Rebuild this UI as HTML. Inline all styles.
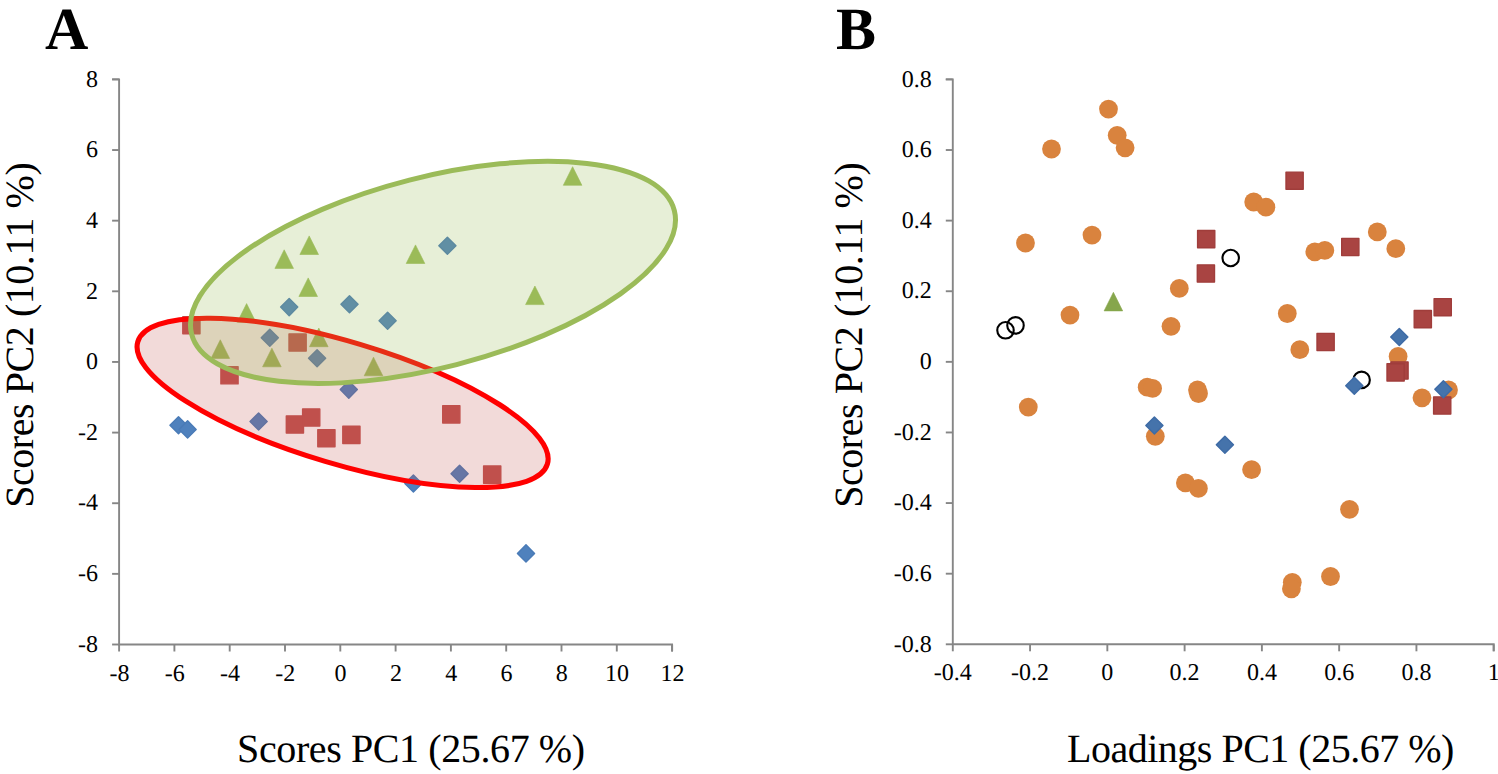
<!DOCTYPE html>
<html><head><meta charset="utf-8"><title>PCA scores and loadings</title>
<style>
html,body{margin:0;padding:0;background:#fff;}
body{width:1498px;height:774px;overflow:hidden;}
svg{display:block;font-family:"Liberation Serif",serif;text-rendering:geometricPrecision;}
text{fill:#000;}
</style></head><body>
<svg width="1498" height="774" viewBox="0 0 1498 774">
<rect width="1498" height="774" fill="#fff"/>
<path d="M112.1,79.40 H119.1 V644.5 H672.1 V651.5" fill="none" stroke="#868686" stroke-width="1.9" stroke-linejoin="miter"/>
<line x1="112.10" y1="79.40" x2="119.10" y2="79.40" stroke="#868686" stroke-width="1.9" stroke-linecap="butt"/>
<line x1="112.10" y1="150.04" x2="119.10" y2="150.04" stroke="#868686" stroke-width="1.9" stroke-linecap="butt"/>
<line x1="112.10" y1="220.67" x2="119.10" y2="220.67" stroke="#868686" stroke-width="1.9" stroke-linecap="butt"/>
<line x1="112.10" y1="291.31" x2="119.10" y2="291.31" stroke="#868686" stroke-width="1.9" stroke-linecap="butt"/>
<line x1="112.10" y1="361.95" x2="119.10" y2="361.95" stroke="#868686" stroke-width="1.9" stroke-linecap="butt"/>
<line x1="112.10" y1="432.59" x2="119.10" y2="432.59" stroke="#868686" stroke-width="1.9" stroke-linecap="butt"/>
<line x1="112.10" y1="503.23" x2="119.10" y2="503.23" stroke="#868686" stroke-width="1.9" stroke-linecap="butt"/>
<line x1="112.10" y1="573.86" x2="119.10" y2="573.86" stroke="#868686" stroke-width="1.9" stroke-linecap="butt"/>
<line x1="112.10" y1="644.50" x2="119.10" y2="644.50" stroke="#868686" stroke-width="1.9" stroke-linecap="butt"/>
<line x1="119.10" y1="644.50" x2="119.10" y2="651.50" stroke="#868686" stroke-width="1.9" stroke-linecap="butt"/>
<line x1="174.40" y1="644.50" x2="174.40" y2="651.50" stroke="#868686" stroke-width="1.9" stroke-linecap="butt"/>
<line x1="229.70" y1="644.50" x2="229.70" y2="651.50" stroke="#868686" stroke-width="1.9" stroke-linecap="butt"/>
<line x1="285.00" y1="644.50" x2="285.00" y2="651.50" stroke="#868686" stroke-width="1.9" stroke-linecap="butt"/>
<line x1="340.30" y1="644.50" x2="340.30" y2="651.50" stroke="#868686" stroke-width="1.9" stroke-linecap="butt"/>
<line x1="395.60" y1="644.50" x2="395.60" y2="651.50" stroke="#868686" stroke-width="1.9" stroke-linecap="butt"/>
<line x1="450.90" y1="644.50" x2="450.90" y2="651.50" stroke="#868686" stroke-width="1.9" stroke-linecap="butt"/>
<line x1="506.20" y1="644.50" x2="506.20" y2="651.50" stroke="#868686" stroke-width="1.9" stroke-linecap="butt"/>
<line x1="561.50" y1="644.50" x2="561.50" y2="651.50" stroke="#868686" stroke-width="1.9" stroke-linecap="butt"/>
<line x1="616.80" y1="644.50" x2="616.80" y2="651.50" stroke="#868686" stroke-width="1.9" stroke-linecap="butt"/>
<line x1="672.10" y1="644.50" x2="672.10" y2="651.50" stroke="#868686" stroke-width="1.9" stroke-linecap="butt"/>
<text x="98.00" y="86.60" text-anchor="end" font-size="24" >8</text>
<text x="98.00" y="157.24" text-anchor="end" font-size="24" >6</text>
<text x="98.00" y="227.87" text-anchor="end" font-size="24" >4</text>
<text x="98.00" y="298.51" text-anchor="end" font-size="24" >2</text>
<text x="98.00" y="369.15" text-anchor="end" font-size="24" >0</text>
<text x="98.00" y="439.79" text-anchor="end" font-size="24" >-2</text>
<text x="98.00" y="510.43" text-anchor="end" font-size="24" >-4</text>
<text x="98.00" y="581.06" text-anchor="end" font-size="24" >-6</text>
<text x="98.00" y="651.70" text-anchor="end" font-size="24" >-8</text>
<text x="119.40" y="681.00" text-anchor="middle" font-size="24" >-8</text>
<text x="174.70" y="681.00" text-anchor="middle" font-size="24" >-6</text>
<text x="230.00" y="681.00" text-anchor="middle" font-size="24" >-4</text>
<text x="285.30" y="681.00" text-anchor="middle" font-size="24" >-2</text>
<text x="340.60" y="681.00" text-anchor="middle" font-size="24" >0</text>
<text x="395.90" y="681.00" text-anchor="middle" font-size="24" >2</text>
<text x="451.20" y="681.00" text-anchor="middle" font-size="24" >4</text>
<text x="506.50" y="681.00" text-anchor="middle" font-size="24" >6</text>
<text x="561.80" y="681.00" text-anchor="middle" font-size="24" >8</text>
<text x="617.10" y="681.00" text-anchor="middle" font-size="24" >10</text>
<text x="672.40" y="681.00" text-anchor="middle" font-size="24" >12</text>
<path d="M945.8,79.40 H952.8 V644.3 H1493.7 V651.3" fill="none" stroke="#868686" stroke-width="1.9" stroke-linejoin="miter"/>
<line x1="945.80" y1="79.40" x2="952.80" y2="79.40" stroke="#868686" stroke-width="1.9" stroke-linecap="butt"/>
<text x="931.80" y="86.60" text-anchor="end" font-size="24" >0.8</text>
<line x1="945.80" y1="150.01" x2="952.80" y2="150.01" stroke="#868686" stroke-width="1.9" stroke-linecap="butt"/>
<text x="931.80" y="157.21" text-anchor="end" font-size="24" >0.6</text>
<line x1="945.80" y1="220.62" x2="952.80" y2="220.62" stroke="#868686" stroke-width="1.9" stroke-linecap="butt"/>
<text x="931.80" y="227.82" text-anchor="end" font-size="24" >0.4</text>
<line x1="945.80" y1="291.24" x2="952.80" y2="291.24" stroke="#868686" stroke-width="1.9" stroke-linecap="butt"/>
<text x="931.80" y="298.44" text-anchor="end" font-size="24" >0.2</text>
<line x1="945.80" y1="361.85" x2="952.80" y2="361.85" stroke="#868686" stroke-width="1.9" stroke-linecap="butt"/>
<text x="931.80" y="369.05" text-anchor="end" font-size="24" >0</text>
<line x1="945.80" y1="432.46" x2="952.80" y2="432.46" stroke="#868686" stroke-width="1.9" stroke-linecap="butt"/>
<text x="931.80" y="439.66" text-anchor="end" font-size="24" >-0.2</text>
<line x1="945.80" y1="503.07" x2="952.80" y2="503.07" stroke="#868686" stroke-width="1.9" stroke-linecap="butt"/>
<text x="931.80" y="510.27" text-anchor="end" font-size="24" >-0.4</text>
<line x1="945.80" y1="573.69" x2="952.80" y2="573.69" stroke="#868686" stroke-width="1.9" stroke-linecap="butt"/>
<text x="931.80" y="580.89" text-anchor="end" font-size="24" >-0.6</text>
<line x1="945.80" y1="644.30" x2="952.80" y2="644.30" stroke="#868686" stroke-width="1.9" stroke-linecap="butt"/>
<text x="931.80" y="651.50" text-anchor="end" font-size="24" >-0.8</text>
<line x1="952.80" y1="644.30" x2="952.80" y2="651.30" stroke="#868686" stroke-width="1.9" stroke-linecap="butt"/>
<text x="952.80" y="679.80" text-anchor="middle" font-size="24" >-0.4</text>
<line x1="1030.07" y1="644.30" x2="1030.07" y2="651.30" stroke="#868686" stroke-width="1.9" stroke-linecap="butt"/>
<text x="1030.07" y="679.80" text-anchor="middle" font-size="24" >-0.2</text>
<line x1="1107.34" y1="644.30" x2="1107.34" y2="651.30" stroke="#868686" stroke-width="1.9" stroke-linecap="butt"/>
<text x="1107.34" y="679.80" text-anchor="middle" font-size="24" >0</text>
<line x1="1184.61" y1="644.30" x2="1184.61" y2="651.30" stroke="#868686" stroke-width="1.9" stroke-linecap="butt"/>
<text x="1184.61" y="679.80" text-anchor="middle" font-size="24" >0.2</text>
<line x1="1261.89" y1="644.30" x2="1261.89" y2="651.30" stroke="#868686" stroke-width="1.9" stroke-linecap="butt"/>
<text x="1261.89" y="679.80" text-anchor="middle" font-size="24" >0.4</text>
<line x1="1339.16" y1="644.30" x2="1339.16" y2="651.30" stroke="#868686" stroke-width="1.9" stroke-linecap="butt"/>
<text x="1339.16" y="679.80" text-anchor="middle" font-size="24" >0.6</text>
<line x1="1416.43" y1="644.30" x2="1416.43" y2="651.30" stroke="#868686" stroke-width="1.9" stroke-linecap="butt"/>
<text x="1416.43" y="679.80" text-anchor="middle" font-size="24" >0.8</text>
<line x1="1493.70" y1="644.30" x2="1493.70" y2="651.30" stroke="#868686" stroke-width="1.9" stroke-linecap="butt"/>
<text x="1493.70" y="679.80" text-anchor="middle" font-size="24" >1</text>
<path d="M178.50,416.65 L187.05,425.20 L178.50,433.75 L169.95,425.20Z" fill="#4f81bd" stroke="#4a7bb7" stroke-width="1.45" stroke-linejoin="round"/>
<path d="M187.60,420.85 L196.15,429.40 L187.60,437.95 L179.05,429.40Z" fill="#4f81bd" stroke="#4a7bb7" stroke-width="1.45" stroke-linejoin="round"/>
<path d="M258.60,412.95 L267.15,421.50 L258.60,430.05 L250.05,421.50Z" fill="#4f81bd" stroke="#4a7bb7" stroke-width="1.45" stroke-linejoin="round"/>
<path d="M269.80,329.15 L278.35,337.70 L269.80,346.25 L261.25,337.70Z" fill="#4f81bd" stroke="#4a7bb7" stroke-width="1.45" stroke-linejoin="round"/>
<path d="M289.20,298.55 L297.75,307.10 L289.20,315.65 L280.65,307.10Z" fill="#4f81bd" stroke="#4a7bb7" stroke-width="1.45" stroke-linejoin="round"/>
<path d="M317.10,349.75 L325.65,358.30 L317.10,366.85 L308.55,358.30Z" fill="#4f81bd" stroke="#4a7bb7" stroke-width="1.45" stroke-linejoin="round"/>
<path d="M348.80,381.05 L357.35,389.60 L348.80,398.15 L340.25,389.60Z" fill="#4f81bd" stroke="#4a7bb7" stroke-width="1.45" stroke-linejoin="round"/>
<path d="M349.50,295.65 L358.05,304.20 L349.50,312.75 L340.95,304.20Z" fill="#4f81bd" stroke="#4a7bb7" stroke-width="1.45" stroke-linejoin="round"/>
<path d="M387.60,312.25 L396.15,320.80 L387.60,329.35 L379.05,320.80Z" fill="#4f81bd" stroke="#4a7bb7" stroke-width="1.45" stroke-linejoin="round"/>
<path d="M447.40,237.15 L455.95,245.70 L447.40,254.25 L438.85,245.70Z" fill="#4f81bd" stroke="#4a7bb7" stroke-width="1.45" stroke-linejoin="round"/>
<path d="M413.40,474.95 L421.95,483.50 L413.40,492.05 L404.85,483.50Z" fill="#4f81bd" stroke="#4a7bb7" stroke-width="1.45" stroke-linejoin="round"/>
<path d="M459.60,465.15 L468.15,473.70 L459.60,482.25 L451.05,473.70Z" fill="#4f81bd" stroke="#4a7bb7" stroke-width="1.45" stroke-linejoin="round"/>
<path d="M526.00,544.85 L534.55,553.40 L526.00,561.95 L517.45,553.40Z" fill="#4f81bd" stroke="#4a7bb7" stroke-width="1.45" stroke-linejoin="round"/>
<rect x="182.80" y="316.60" width="17.20" height="17.20" fill="#c0504d" stroke="#c0504d" stroke-width="1.4" stroke-linejoin="round"/>
<rect x="220.90" y="366.70" width="17.20" height="17.20" fill="#c0504d" stroke="#c0504d" stroke-width="1.4" stroke-linejoin="round"/>
<rect x="289.00" y="333.90" width="17.20" height="17.20" fill="#c0504d" stroke="#c0504d" stroke-width="1.4" stroke-linejoin="round"/>
<rect x="302.60" y="408.90" width="17.20" height="17.20" fill="#c0504d" stroke="#c0504d" stroke-width="1.4" stroke-linejoin="round"/>
<rect x="286.30" y="415.90" width="17.20" height="17.20" fill="#c0504d" stroke="#c0504d" stroke-width="1.4" stroke-linejoin="round"/>
<rect x="317.80" y="429.60" width="17.20" height="17.20" fill="#c0504d" stroke="#c0504d" stroke-width="1.4" stroke-linejoin="round"/>
<rect x="342.80" y="426.30" width="17.20" height="17.20" fill="#c0504d" stroke="#c0504d" stroke-width="1.4" stroke-linejoin="round"/>
<rect x="442.70" y="405.80" width="17.20" height="17.20" fill="#c0504d" stroke="#c0504d" stroke-width="1.4" stroke-linejoin="round"/>
<rect x="483.60" y="466.00" width="17.20" height="17.20" fill="#c0504d" stroke="#c0504d" stroke-width="1.4" stroke-linejoin="round"/>
<path d="M220.30,339.80 L229.60,358.40 L211.00,358.40Z" fill="#9bbb59" stroke="#9bbb59" stroke-width="0.6" stroke-linejoin="round"/>
<path d="M246.60,303.60 L255.90,322.20 L237.30,322.20Z" fill="#9bbb59" stroke="#9bbb59" stroke-width="0.6" stroke-linejoin="round"/>
<path d="M271.90,348.20 L281.20,366.80 L262.60,366.80Z" fill="#9bbb59" stroke="#9bbb59" stroke-width="0.6" stroke-linejoin="round"/>
<path d="M284.20,249.80 L293.50,268.40 L274.90,268.40Z" fill="#9bbb59" stroke="#9bbb59" stroke-width="0.6" stroke-linejoin="round"/>
<path d="M309.20,235.90 L318.50,254.50 L299.90,254.50Z" fill="#9bbb59" stroke="#9bbb59" stroke-width="0.6" stroke-linejoin="round"/>
<path d="M308.20,277.90 L317.50,296.50 L298.90,296.50Z" fill="#9bbb59" stroke="#9bbb59" stroke-width="0.6" stroke-linejoin="round"/>
<path d="M318.80,328.10 L328.10,346.70 L309.50,346.70Z" fill="#9bbb59" stroke="#9bbb59" stroke-width="0.6" stroke-linejoin="round"/>
<path d="M373.50,357.20 L382.80,375.80 L364.20,375.80Z" fill="#9bbb59" stroke="#9bbb59" stroke-width="0.6" stroke-linejoin="round"/>
<path d="M415.50,244.90 L424.80,263.50 L406.20,263.50Z" fill="#9bbb59" stroke="#9bbb59" stroke-width="0.6" stroke-linejoin="round"/>
<path d="M534.90,286.00 L544.20,304.60 L525.60,304.60Z" fill="#9bbb59" stroke="#9bbb59" stroke-width="0.6" stroke-linejoin="round"/>
<path d="M572.60,166.70 L581.90,185.30 L563.30,185.30Z" fill="#9bbb59" stroke="#9bbb59" stroke-width="0.6" stroke-linejoin="round"/>
<ellipse cx="342.6" cy="402.87" rx="213.75" ry="61.08" transform="rotate(16.64 342.6 402.87)" fill="rgba(192,80,77,0.21)" stroke="#ff0000" stroke-width="5.1"/>
<ellipse cx="432.99" cy="272.35" rx="249.16" ry="95.21" transform="rotate(-14.37 432.99 272.35)" fill="rgba(155,187,89,0.24)" stroke="#9bbb59" stroke-width="5.0"/>
<circle cx="1108.50" cy="109.10" r="9.4" fill="#d9833e"/>
<circle cx="1117.20" cy="135.30" r="9.4" fill="#d9833e"/>
<circle cx="1125.10" cy="147.80" r="9.4" fill="#d9833e"/>
<circle cx="1051.50" cy="149.00" r="9.4" fill="#d9833e"/>
<circle cx="1092.00" cy="235.10" r="9.4" fill="#d9833e"/>
<circle cx="1025.50" cy="243.00" r="9.4" fill="#d9833e"/>
<circle cx="1253.70" cy="202.00" r="9.4" fill="#d9833e"/>
<circle cx="1265.90" cy="207.20" r="9.4" fill="#d9833e"/>
<circle cx="1179.30" cy="288.40" r="9.4" fill="#d9833e"/>
<circle cx="1070.00" cy="315.10" r="9.4" fill="#d9833e"/>
<circle cx="1171.00" cy="326.30" r="9.4" fill="#d9833e"/>
<circle cx="1314.80" cy="251.80" r="9.4" fill="#d9833e"/>
<circle cx="1324.80" cy="250.40" r="9.4" fill="#d9833e"/>
<circle cx="1377.30" cy="231.90" r="9.4" fill="#d9833e"/>
<circle cx="1395.80" cy="248.70" r="9.4" fill="#d9833e"/>
<circle cx="1287.30" cy="313.50" r="9.4" fill="#d9833e"/>
<circle cx="1299.80" cy="349.70" r="9.4" fill="#d9833e"/>
<circle cx="1398.10" cy="356.40" r="9.4" fill="#d9833e"/>
<circle cx="1422.00" cy="397.80" r="9.4" fill="#d9833e"/>
<circle cx="1448.50" cy="390.00" r="9.4" fill="#d9833e"/>
<circle cx="1147.20" cy="387.20" r="9.4" fill="#d9833e"/>
<circle cx="1152.60" cy="388.40" r="9.4" fill="#d9833e"/>
<circle cx="1197.50" cy="390.00" r="9.4" fill="#d9833e"/>
<circle cx="1198.50" cy="393.50" r="9.4" fill="#d9833e"/>
<circle cx="1028.30" cy="407.10" r="9.4" fill="#d9833e"/>
<circle cx="1155.30" cy="436.30" r="9.4" fill="#d9833e"/>
<circle cx="1251.60" cy="469.70" r="9.4" fill="#d9833e"/>
<circle cx="1185.40" cy="482.90" r="9.4" fill="#d9833e"/>
<circle cx="1198.40" cy="488.40" r="9.4" fill="#d9833e"/>
<circle cx="1349.50" cy="509.30" r="9.4" fill="#d9833e"/>
<circle cx="1292.30" cy="582.30" r="9.4" fill="#d9833e"/>
<circle cx="1291.40" cy="588.80" r="9.4" fill="#d9833e"/>
<circle cx="1330.50" cy="576.50" r="9.4" fill="#d9833e"/>
<rect x="1286.00" y="172.10" width="17.20" height="17.20" fill="#a94442" stroke="#a03d3b" stroke-width="1.4" stroke-linejoin="round"/>
<rect x="1197.60" y="230.50" width="17.20" height="17.20" fill="#a94442" stroke="#a03d3b" stroke-width="1.4" stroke-linejoin="round"/>
<rect x="1197.30" y="264.90" width="17.20" height="17.20" fill="#a94442" stroke="#a03d3b" stroke-width="1.4" stroke-linejoin="round"/>
<rect x="1341.70" y="238.40" width="17.20" height="17.20" fill="#a94442" stroke="#a03d3b" stroke-width="1.4" stroke-linejoin="round"/>
<rect x="1317.00" y="333.40" width="17.20" height="17.20" fill="#a94442" stroke="#a03d3b" stroke-width="1.4" stroke-linejoin="round"/>
<rect x="1390.90" y="361.90" width="17.20" height="17.20" fill="#a94442" stroke="#a03d3b" stroke-width="1.4" stroke-linejoin="round"/>
<rect x="1387.00" y="363.80" width="17.20" height="17.20" fill="#a94442" stroke="#a03d3b" stroke-width="1.4" stroke-linejoin="round"/>
<rect x="1414.20" y="310.50" width="17.20" height="17.20" fill="#a94442" stroke="#a03d3b" stroke-width="1.4" stroke-linejoin="round"/>
<rect x="1434.10" y="298.60" width="17.20" height="17.20" fill="#a94442" stroke="#a03d3b" stroke-width="1.4" stroke-linejoin="round"/>
<rect x="1433.60" y="396.90" width="17.20" height="17.20" fill="#a94442" stroke="#a03d3b" stroke-width="1.4" stroke-linejoin="round"/>
<circle cx="1005.50" cy="330.30" r="8.25" fill="none" stroke="#000" stroke-width="2.1"/>
<circle cx="1015.50" cy="325.40" r="8.25" fill="none" stroke="#000" stroke-width="2.1"/>
<circle cx="1230.70" cy="258.00" r="8.25" fill="none" stroke="#000" stroke-width="2.1"/>
<circle cx="1361.60" cy="379.90" r="8.25" fill="none" stroke="#000" stroke-width="2.1"/>
<path d="M1113.40,292.30 L1122.70,310.90 L1104.10,310.90Z" fill="#86a64c" stroke="#86a64c" stroke-width="0.6" stroke-linejoin="round"/>
<path d="M1399.30,328.45 L1407.85,337.00 L1399.30,345.55 L1390.75,337.00Z" fill="#4573ab" stroke="#3e6ba6" stroke-width="1.45" stroke-linejoin="round"/>
<path d="M1354.30,377.15 L1362.85,385.70 L1354.30,394.25 L1345.75,385.70Z" fill="#4573ab" stroke="#3e6ba6" stroke-width="1.45" stroke-linejoin="round"/>
<path d="M1443.40,380.75 L1451.95,389.30 L1443.40,397.85 L1434.85,389.30Z" fill="#4573ab" stroke="#3e6ba6" stroke-width="1.45" stroke-linejoin="round"/>
<path d="M1154.40,416.95 L1162.95,425.50 L1154.40,434.05 L1145.85,425.50Z" fill="#4573ab" stroke="#3e6ba6" stroke-width="1.45" stroke-linejoin="round"/>
<path d="M1224.90,436.15 L1233.45,444.70 L1224.90,453.25 L1216.35,444.70Z" fill="#4573ab" stroke="#3e6ba6" stroke-width="1.45" stroke-linejoin="round"/>
<text x="45.00" y="48.80" text-anchor="start" font-size="60" font-weight="bold">A</text>
<text x="836.00" y="48.80" text-anchor="start" font-size="60" font-weight="bold">B</text>
<text x="237.10" y="762.30" text-anchor="start" font-size="40" textLength="348.0" lengthAdjust="spacing">Scores PC1 (25.67 %)</text>
<text x="1067.00" y="762.30" text-anchor="start" font-size="40" textLength="387.3" lengthAdjust="spacing">Loadings PC1 (25.67 %)</text>
<text transform="translate(33.0 507.8) rotate(-90)" font-size="40" text-anchor="start" textLength="345.6" lengthAdjust="spacing">Scores PC2 (10.11 %)</text>
<text transform="translate(861.8 507.8) rotate(-90)" font-size="40" text-anchor="start" textLength="345.6" lengthAdjust="spacing">Scores PC2 (10.11 %)</text>
</svg>
</body></html>
